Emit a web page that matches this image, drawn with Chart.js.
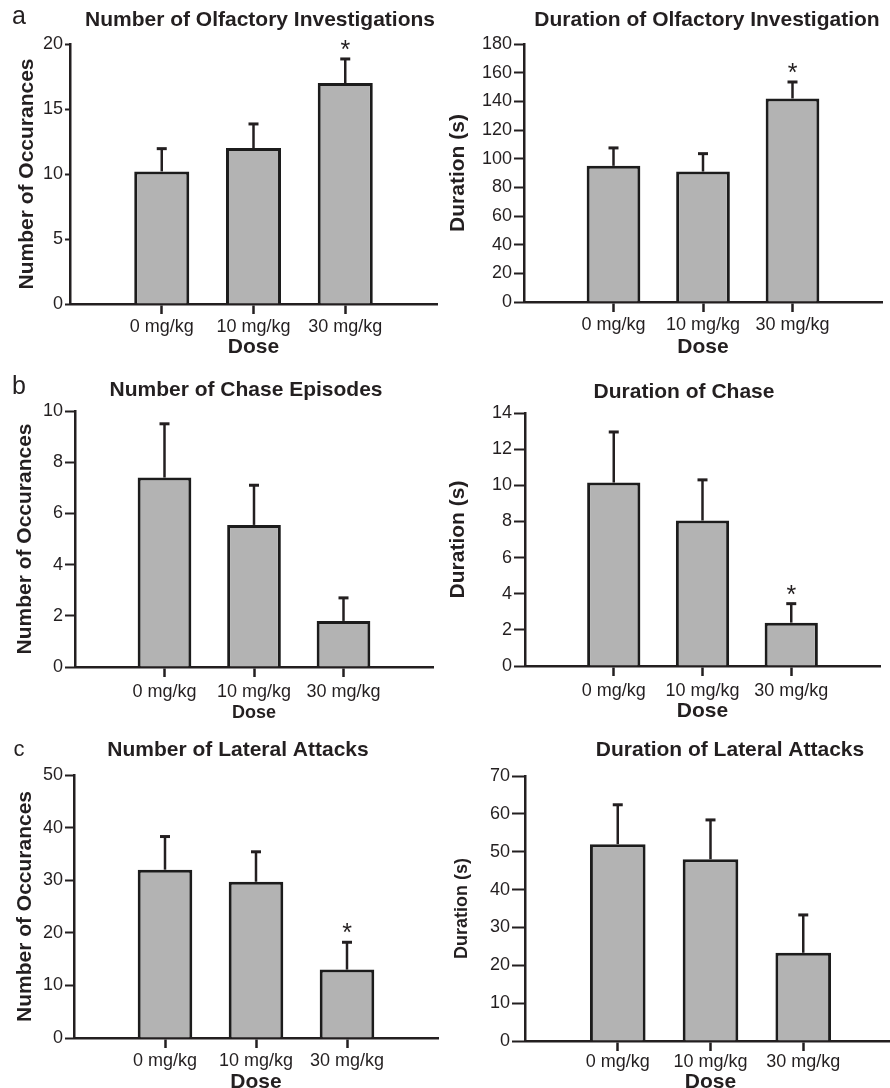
<!DOCTYPE html>
<html>
<head>
<meta charset="utf-8">
<script src="https://cdn.jsdelivr.net/npm/chart.js@4.4.1/dist/chart.umd.min.js"></script>
<style>
  html, body { margin: 0; padding: 0; background: #fff; }
  body { width: 890px; height: 1088px; position: relative; overflow: hidden; }
  canvas { position: absolute; }
</style>
</head>
<body>
<canvas id="olfCountChart"></canvas>
<canvas id="olfDurChart"></canvas>
<canvas id="chaseCountChart"></canvas>
<canvas id="chaseDurChart"></canvas>
<canvas id="latCountChart"></canvas>
<canvas id="latDurChart"></canvas>
<script>
const doses = ["0 mg/kg", "10 mg/kg", "30 mg/kg"];

// means, SEM and significance (*) per dose
const olfCount = [10.2, 12.0, 17.0];
const olfCountErr = [1.75, 1.85, 1.85];
const olfCountSig = [false, false, true];

const olfDur = [95, 91, 142];
const olfDurErr = [12.5, 12.5, 11.5];
const olfDurSig = [false, false, true];

const chaseCount = [7.4, 5.55, 1.8];
const chaseCountErr = [2.1, 1.55, 0.9];
const chaseCountSig = [false, false, false];

const chaseDur = [10.15, 8.05, 2.4];
const chaseDurErr = [2.8, 2.25, 1.05];
const chaseDurSig = [false, false, true];

const latCount = [32, 29.7, 13];
const latCountErr = [6.3, 5.7, 5.2];
const latCountSig = [false, false, true];

const latDur = [52, 48, 23.3];
const latDurErr = [10.4, 10.4, 10];
const latDurSig = [false, false, false];

// y axis ranges: [max, step]
const olfCountAxis = [20, 5];
const olfDurAxis = [180, 20];
const chaseCountAxis = [10, 2];
const chaseDurAxis = [14, 2];
const latCountAxis = [50, 10];
const latDurAxis = [70, 10];

const ink = "#231f20";
const family = "'Liberation Sans', Arial, Helvetica, sans-serif";

const errorBars = {
  id: "errorBars",
  afterDatasetsDraw(chart) {
    const ctx = chart.ctx;
    const yScale = chart.scales.y;
    chart.data.datasets.forEach((ds, di) => {
      chart.getDatasetMeta(di).data.forEach((bar, i) => {
        const err = ds.errors[i];
        if (err == null || ds.data[i] == null) return;
        const top = yScale.getPixelForValue(ds.data[i] + err);
        ctx.save();
        ctx.strokeStyle = ink;
        ctx.lineWidth = 2.5;
        ctx.beginPath();
        ctx.moveTo(bar.x, bar.y);
        ctx.lineTo(bar.x, top);
        ctx.stroke();
        ctx.lineWidth = 3;
        ctx.beginPath();
        ctx.moveTo(bar.x - 5, top);
        ctx.lineTo(bar.x + 5, top);
        ctx.stroke();
        if (ds.sig[i]) {
          ctx.fillStyle = ink;
          ctx.font = "25px " + family;
          ctx.textAlign = "center";
          ctx.textBaseline = "alphabetic";
          ctx.fillText("*", bar.x, top - 1);
        }
        ctx.restore();
      });
    });
  }
};

function panelText(p) {
  return {
    id: "panelText",
    afterDraw(chart) {
      const ctx = chart.ctx;
      ctx.save();
      ctx.fillStyle = ink;
      ctx.textAlign = "center";
      ctx.textBaseline = "middle";
      ctx.font = "bold 21px " + family;
      ctx.fillText(p.title, p.titlePos[0], p.titlePos[1]);
      if (p.letter) {
        ctx.font = p.letterSize + "px " + family;
        ctx.fillText(p.letter, p.letterPos[0], p.letterPos[1]);
      }
      ctx.restore();
    }
  };
}

// tick marks only under the dose categories, not the empty end slots
function doseTickColor(c) {
  return c.index >= 1 && c.index <= doses.length ? ink : "rgba(0,0,0,0)";
}

function makeChart(p) {
  const canvas = document.getElementById(p.id);
  canvas.width = p.w;
  canvas.height = p.h;
  canvas.style.left = p.left + "px";
  canvas.style.top = p.top + "px";
  const [aL, aR, aT, aB] = p.area;
  const yTitleLine = p.yTitleSize * 1.2;

  return new Chart(canvas, {
    type: "bar",
    data: {
      labels: ["", ...doses, ""],
      datasets: [{
        data: [null, ...p.values, null],
        errors: [null, ...p.errors, null],
        sig: [false, ...p.sig, false],
        backgroundColor: "#b3b3b3",
        borderColor: "#1c1c1c",
        borderWidth: 3,
        borderSkipped: "start",
        barPercentage: 0.75,
        categoryPercentage: 0.8
      }]
    },
    options: {
      responsive: false,
      animation: false,
      layout: { padding: { left: 0, top: aT, right: p.w - aR, bottom: 0 } },
      plugins: { legend: { display: false }, tooltip: { enabled: false } },
      scales: {
        x: {
          offset: false,
          afterFit: s => { s.height = p.h - aB; },
          border: { color: ink, width: 2.5 },
          grid: {
            offset: false,
            drawOnChartArea: false,
            tickLength: 10,
            tickWidth: 2.5,
            tickColor: doseTickColor
          },
          ticks: { color: ink, font: { family, size: 18 }, padding: p.labelPad, maxRotation: 0, autoSkip: false },
          title: { display: true, text: "Dose", color: ink, font: { family, size: p.doseSize, weight: "bold" }, padding: 0 }
        },
        y: {
          min: 0,
          max: p.axis[0],
          afterFit: s => { s.width = aL; },
          border: { color: ink, width: 2.5 },
          grid: { drawOnChartArea: false, tickLength: p.yTickLen, tickWidth: 2, tickColor: ink },
          ticks: { stepSize: p.axis[1], color: ink, font: { family, size: 18 }, padding: 2 },
          title: {
            display: true,
            text: p.yTitle,
            color: ink,
            font: { family, size: p.yTitleSize, weight: "bold" },
            padding: { top: p.yTitleX - yTitleLine / 2, bottom: 0 }
          }
        }
      }
    },
    plugins: [errorBars, panelText(p)]
  });
}

const panels = [
  { id: "olfCountChart", left: 0, top: 0, w: 445, h: 360, area: [70, 437, 44, 304],
    title: "Number of Olfactory Investigations", titlePos: [260, 20], letter: "a", letterSize: 25, letterPos: [19, 17],
    yTitle: "Number of Occurances", yTitleSize: 21, yTitleX: 27, yTickLen: 5, labelPad: 2, doseSize: 21,
    axis: olfCountAxis, values: olfCount, errors: olfCountErr, sig: olfCountSig },
  { id: "olfDurChart", left: 445, top: 0, w: 445, h: 360, area: [79, 437, 44, 302],
    title: "Duration of Olfactory Investigation", titlePos: [262, 20],
    yTitle: "Duration (s)", yTitleSize: 21, yTitleX: 13, yTickLen: 10, labelPad: 2, doseSize: 21,
    axis: olfDurAxis, values: olfDur, errors: olfDurErr, sig: olfDurSig },
  { id: "chaseCountChart", left: 0, top: 360, w: 445, h: 364, area: [75, 433, 51, 307],
    title: "Number of Chase Episodes", titlePos: [246, 30], letter: "b", letterSize: 25, letterPos: [19, 27],
    yTitle: "Number of Occurances", yTitleSize: 21, yTitleX: 25, yTickLen: 10, labelPad: 4, doseSize: 18,
    axis: chaseCountAxis, values: chaseCount, errors: chaseCountErr, sig: chaseCountSig },
  { id: "chaseDurChart", left: 445, top: 360, w: 445, h: 364, area: [80, 435, 53, 306],
    title: "Duration of Chase", titlePos: [239, 32],
    yTitle: "Duration (s)", yTitleSize: 21, yTitleX: 13, yTickLen: 11, labelPad: 4, doseSize: 21,
    axis: chaseDurAxis, values: chaseDur, errors: chaseDurErr, sig: chaseDurSig },
  { id: "latCountChart", left: 0, top: 720, w: 445, h: 375, area: [74, 438, 55, 318],
    title: "Number of Lateral Attacks", titlePos: [238, 30], letter: "c", letterSize: 22, letterPos: [19, 30],
    yTitle: "Number of Occurances", yTitleSize: 21, yTitleX: 25, yTickLen: 9, labelPad: 2, doseSize: 21,
    axis: latCountAxis, values: latCount, errors: latCountErr, sig: latCountSig },
  { id: "latDurChart", left: 445, top: 720, w: 455, h: 375, area: [80, 451, 56, 321],
    title: "Duration of Lateral Attacks", titlePos: [285, 30],
    yTitle: "Duration (s)", yTitleSize: 18, yTitleX: 17, yTickLen: 13, labelPad: 0, doseSize: 21,
    axis: latDurAxis, values: latDur, errors: latDurErr, sig: latDurSig }
];

panels.forEach(makeChart);
</script>
</body>
</html>
